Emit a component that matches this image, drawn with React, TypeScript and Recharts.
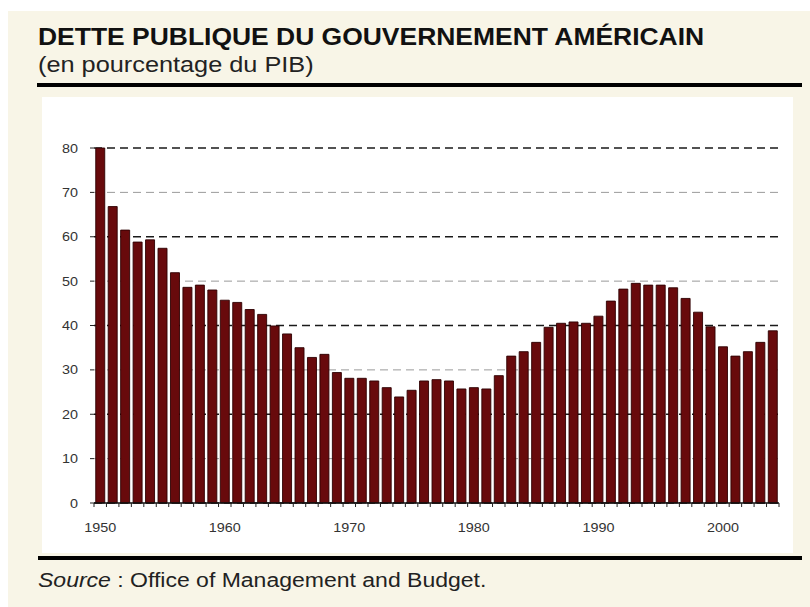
import { BarChart, Bar, XAxis, YAxis, CartesianGrid } from 'recharts'

const years = [
  1950, 1951, 1952, 1953, 1954, 1955, 1956, 1957, 1958, 1959,
  1960, 1961, 1962, 1963, 1964, 1965, 1966, 1967, 1968, 1969,
  1970, 1971, 1972, 1973, 1974, 1975, 1976, 1977, 1978, 1979,
  1980, 1981, 1982, 1983, 1984, 1985, 1986, 1987, 1988, 1989,
  1990, 1991, 1992, 1993, 1994, 1995, 1996, 1997, 1998, 1999,
  2000, 2001, 2002, 2003, 2004,
]

// dette publique en % du PIB
const debtPct = [
  80.0, 66.8, 61.5, 58.8, 59.3, 57.4, 51.9, 48.6, 49.1, 48.0,
  45.7, 45.2, 43.6, 42.5, 39.9, 38.1, 35.0, 32.8, 33.5, 29.4,
  28.1, 28.1, 27.5, 26.0, 23.9, 25.4, 27.5, 27.8, 27.5, 25.7,
  26.0, 25.7, 28.7, 33.1, 34.1, 36.2, 39.6, 40.5, 40.8, 40.5,
  42.1, 45.5, 48.2, 49.5, 49.1, 49.1, 48.5, 46.1, 43.0, 39.7,
  35.2, 33.1, 34.1, 36.2, 38.8,
]

const yTicks = [0, 10, 20, 30, 40, 50, 60, 70, 80]

const data = years.map((year, i) => ({ year, value: debtPct[i] }))

const CHART_W = 810
const CHART_H = 560
const M_LEFT = 0
const Y_W = 94
const M_RIGHT = 31
const BAND = (CHART_W - M_LEFT - Y_W - M_RIGHT) / years.length
const STRETCH = 1.15 // le texte de l'original est un peu étiré en largeur

const font = '"Liberation Sans", Arial, sans-serif'

function YearTick(props: any) {
  const { x, y, payload, index } = props
  const year = payload.value as number
  const left = x - BAND / 2
  return (
    <g>
      <line x1={left} y1={y} x2={left} y2={y + 4} stroke="#222" strokeWidth={1} />
      {index === years.length - 1 && (
        <line x1={x + BAND / 2} y1={y} x2={x + BAND / 2} y2={y + 4} stroke="#222" strokeWidth={1} />
      )}
      {year % 10 === 0 && (
        <text
          transform={`translate(${x},${y + 29}) scale(${STRETCH},1)`}
          textAnchor="middle"
          fontSize={12.5}
          fill="#333"
          fontFamily={font}
        >
          {year}
        </text>
      )}
    </g>
  )
}

function ValueTick(props: any) {
  const { x, y, payload } = props
  return (
    <text
      transform={`translate(${x},${y + 4.5}) scale(${STRETCH},1)`}
      textAnchor="end"
      fontSize={12.5}
      fill="#333"
      fontFamily={font}
    >
      {payload.value}
    </text>
  )
}

function GridLine(props: any) {
  const { x1, x2, y1, y2, index } = props
  // les lignes alternent foncé / clair
  const light = index % 2 === 1
  return (
    <line
      key={`g-${index}`}
      x1={x1}
      x2={x2}
      y1={y1}
      y2={y2}
      stroke={light ? '#9a9a9a' : '#1a1a1a'}
      strokeWidth={light ? 1 : 1.3}
      strokeDasharray="8 5"
    />
  )
}

const stretched = { transform: `scaleX(${STRETCH})`, transformOrigin: 'left center' }

export default function App() {
  return (
    <div style={{ position: 'absolute', left: 0, top: 0, width: 810, height: 607, background: '#fff', fontFamily: font }}>
      <div style={{ position: 'absolute', left: 8, top: 11, width: 802, height: 596, background: '#f8f5e7' }} />
      <div style={{ position: 'absolute', left: 42, top: 97, width: 751, height: 456, background: '#fff' }} />

      <div style={{ position: 'absolute', left: 38, top: 24, fontSize: 23, fontWeight: 'bold', color: '#111', whiteSpace: 'nowrap', lineHeight: '26px', ...stretched }}>
        DETTE PUBLIQUE DU GOUVERNEMENT AMÉRICAIN
      </div>
      <div style={{ position: 'absolute', left: 38, top: 53, fontSize: 22, color: '#222', whiteSpace: 'nowrap', lineHeight: '24px', ...stretched }}>
        (en pourcentage du PIB)
      </div>
      <div style={{ position: 'absolute', left: 37, top: 83, width: 765, height: 4, background: '#000' }} />

      <div style={{ position: 'absolute', left: 0, top: 0 }}>
        <BarChart
          width={CHART_W}
          height={CHART_H}
          data={data}
          margin={{ top: 148, right: M_RIGHT, left: M_LEFT, bottom: 17 }}
          barCategoryGap="14%"
        >
          <CartesianGrid vertical={false} horizontal={GridLine} />
          <XAxis
            dataKey="year"
            interval={0}
            height={40}
            tickSize={0}
            tickMargin={0}
            tickLine={false}
            axisLine={{ stroke: '#111', strokeWidth: 1.5 }}
            tick={<YearTick />}
          />
          <YAxis
            width={Y_W}
            domain={[0, 80]}
            ticks={yTicks}
            axisLine={false}
            tickSize={4}
            tickMargin={12}
            tickLine={{ stroke: '#222' }}
            tick={<ValueTick />}
          />
          <Bar dataKey="value" fill="#680a0c" stroke="#2e0002" strokeWidth={0.9} isAnimationActive={false} />
        </BarChart>
      </div>

      <div style={{ position: 'absolute', left: 38, top: 556, width: 764, height: 4, background: '#000' }} />
      <div style={{ position: 'absolute', left: 38, top: 569, fontSize: 20, color: '#222', whiteSpace: 'nowrap', lineHeight: '22px', ...stretched }}>
        <i>Source</i> : Office of Management and Budget.
      </div>
    </div>
  )
}
